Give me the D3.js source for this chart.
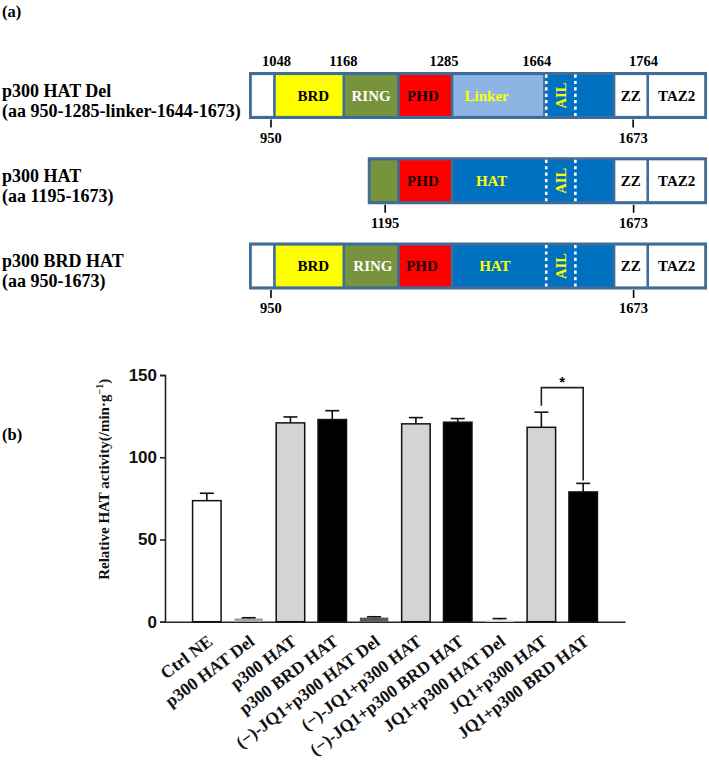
<!DOCTYPE html>
<html>
<head>
<meta charset="utf-8">
<script src="https://cdn.jsdelivr.net/npm/d3@7"></script>
<style>
  html, body { margin: 0; padding: 0; background: #fff; }
  svg { display: block; }
  .serif { font-family: "Liberation Serif", "Times New Roman", serif; font-weight: bold; }
</style>
</head>
<body>
<svg id="fig" width="709" height="765"></svg>
<script>
// ---------------- Panel (a): domain schematic data ----------------
const constructNames = ["p300 HAT Del", "p300 HAT", "p300 BRD HAT"];
const constructRanges = ["(aa 950-1285-linker-1644-1673)", "(aa 1195-1673)", "(aa 950-1673)"];
// schematic units (0-100 along the drawn construct)
const segmentsDel = [
  {name: "", kind: "N", from: 0, to: 5.26},
  {name: "BRD", kind: "BRD", from: 5.26, to: 20.5, at: 13.8},
  {name: "RING", kind: "RING", from: 20.5, to: 32.5},
  {name: "PHD", kind: "PHD", from: 32.5, to: 44.3, at: 37.9},
  {name: "Linker", kind: "Linker", from: 44.3, to: 64.6, at: 51.9},
  {name: "", kind: "HAT", from: 64.6, to: 79.9},
  {name: "ZZ", kind: "ZZ", from: 79.9, to: 87.3},
  {name: "TAZ2", kind: "TAZ2", from: 87.3, to: 100}
];
const segmentsHat = [
  {name: "", kind: "RING", from: 26.1, to: 32.5},
  {name: "PHD", kind: "PHD", from: 32.5, to: 44.3, at: 37.9},
  {name: "HAT", kind: "HAT", from: 44.3, to: 79.9, at: 53.0},
  {name: "ZZ", kind: "ZZ", from: 79.9, to: 87.3},
  {name: "TAZ2", kind: "TAZ2", from: 87.3, to: 100}
];
const segmentsBrdHat = [
  {name: "", kind: "N", from: 0, to: 5.26},
  {name: "BRD", kind: "BRD", from: 5.26, to: 20.5, at: 13.8},
  {name: "RING", kind: "RING", from: 20.5, to: 32.5, at: 26.9},
  {name: "PHD", kind: "PHD", from: 32.5, to: 44.3, at: 37.7},
  {name: "HAT", kind: "HAT", from: 44.3, to: 79.9, at: 53.7},
  {name: "ZZ", kind: "ZZ", from: 79.9, to: 87.3},
  {name: "TAZ2", kind: "TAZ2", from: 87.3, to: 100}
];
const constructSegments = [segmentsDel, segmentsHat, segmentsBrdHat];
const ailMarks = [65.0, 71.4];           // dotted AIL borders, schematic units
const ailLabelAt = 68.2;
const topLabels = [ {text: "1048", at: 5.7}, {text: "1168", at: 20.4}, {text: "1285", at: 42.5},
                    {text: "1664", at: 62.9}, {text: "1764", at: 86.4} ];
const bottomLabels = [
  [ {text: "950", at: 4.5}, {text: "1673", at: 84.1} ],
  [ {text: "1195", at: 29.6}, {text: "1673", at: 84.2} ],
  [ {text: "950", at: 4.5}, {text: "1673", at: 84.2} ]
];

// ---------------- Panel (b): bar chart data ----------------
const categories = ["Ctrl NE", "p300 HAT Del", "p300 HAT", "p300 BRD HAT",
  "(\u2212)-JQ1+p300 HAT Del", "(\u2212)-JQ1+p300 HAT", "(\u2212)-JQ1+p300 BRD HAT",
  "JQ1+p300 HAT Del", "JQ1+p300 HAT", "JQ1+p300 BRD HAT"];
const values = [73.6, 2.0, 120.9, 122.9, 2.5, 120.3, 121.3, 1.3, 118.2, 78.9];
const errors = [4.5, 0.4, 3.6, 5.4, 0.5, 3.8, 2.2, 0.6, 9.2, 5.2];
const yTicks = [0, 50, 100, 150];
const significance = {a: 8, b: 9, level: 142.3, aEnd: 131.3, bEnd: 85.8, label: "*"};

// ---------------- styles ----------------
const segFill = {N: "#ffffff", BRD: "#ffff00", RING: "#77933c", PHD: "#ff0000",
  Linker: "#8eb4e3", HAT: "#0070c0", ZZ: "#ffffff", TAZ2: "#ffffff"};
const segText = {N: "#000", BRD: "#000", RING: "#ffffff", PHD: "#1a0000",
  Linker: "#ffff00", HAT: "#ffff00", ZZ: "#000", TAZ2: "#000"};
const borderColor = "#3f6c99";
const barFills = ["#ffffff", "#a6a6a6", "#d4d4d4", "#000000", "#595959",
                  "#d4d4d4", "#000000", "#e8e8e8", "#d4d4d4", "#000000"];

const svg = d3.select("#fig");

// panel labels
svg.append("text").attr("class", "serif").attr("x", 2).attr("y", 17)
  .attr("font-size", 16.5).text("(a)");
svg.append("text").attr("class", "serif").attr("x", 2).attr("y", 440)
  .attr("font-size", 16.5).text("(b)");

// ---------------- Panel (a) drawing ----------------
const sx = d3.scaleLinear().domain([0, 100]).range([250.5, 705.5]);
const rowTop = d3.scaleLinear().domain([0, 2]).range([73.5, 244]);
const boxH = 44;

constructSegments.forEach((segs, i) => {
  const top = rowTop(i);
  const g = svg.append("g");
  const x0 = sx(d3.min(segs, d => d.from)), x1 = sx(d3.max(segs, d => d.to));
  g.append("rect").attr("x", x0).attr("y", top).attr("width", x1 - x0).attr("height", boxH)
    .attr("fill", borderColor).attr("stroke", borderColor).attr("stroke-width", 3);
  g.selectAll("rect.seg").data(segs).join("rect").attr("class", "seg")
    .attr("x", d => sx(d.from) + 1.3)
    .attr("y", top + 1.6)
    .attr("width", d => sx(d.to) - sx(d.from) - 2.6)
    .attr("height", boxH - 3.2)
    .attr("fill", d => segFill[d.kind]);
  // AIL dotted borders
  g.selectAll("line.ail").data(ailMarks).join("line").attr("class", "ail")
    .attr("x1", d => sx(d)).attr("x2", d => sx(d))
    .attr("y1", top + 1).attr("y2", top + boxH - 1)
    .attr("stroke", "#ffffff").attr("stroke-width", 2.6).attr("stroke-dasharray", "3.2,3.2");
  g.append("text").attr("class", "serif")
    .attr("transform", `translate(${sx(ailLabelAt) + 5},${top + boxH / 2}) rotate(-90)`)
    .attr("text-anchor", "middle").attr("font-size", 14.5).attr("fill", "#ffff00").text("AIL");
  g.selectAll("text.seg").data(segs.filter(d => d.name)).join("text").attr("class", "serif seg")
    .attr("x", d => sx(d.at !== undefined ? d.at : (d.from + d.to) / 2))
    .attr("y", top + boxH / 2 + 5)
    .attr("text-anchor", "middle").attr("font-size", 15)
    .attr("fill", d => segText[d.kind]).text(d => d.name);
  // bottom ticks & numbers
  g.selectAll("line.tk").data(bottomLabels[i]).join("line").attr("class", "tk")
    .attr("x1", d => sx(d.at)).attr("x2", d => sx(d.at))
    .attr("y1", top + boxH + 2).attr("y2", top + boxH + 10)
    .attr("stroke", "#000").attr("stroke-width", 1.6);
  g.selectAll("text.num").data(bottomLabels[i]).join("text").attr("class", "serif num")
    .attr("x", d => sx(d.at)).attr("y", top + boxH + 25)
    .attr("text-anchor", "middle").attr("font-size", 14.5).text(d => d.text);
  // name labels
  g.append("text").attr("class", "serif").attr("x", 2).attr("y", top + 23)
    .attr("font-size", 18).text(constructNames[i]);
  g.append("text").attr("class", "serif").attr("x", 2).attr("y", top + 43)
    .attr("font-size", 18).text(constructRanges[i]);
});
svg.append("g").selectAll("text").data(topLabels).join("text").attr("class", "serif")
  .attr("x", d => sx(d.at)).attr("y", rowTop(0) - 8)
  .attr("text-anchor", "middle").attr("font-size", 14.5).text(d => d.text);

// ---------------- Panel (b) drawing ----------------
const x = d3.scalePoint().domain(categories).range([165, 625]).padding(1);
const y = d3.scaleLinear().domain([0, 150]).range([621.7, 375]);
const barW = 28.5;

const yAxis = svg.append("g").attr("transform", "translate(165,0)")
  .call(d3.axisLeft(y).tickValues(yTicks).tickSize(5).tickPadding(3).tickFormat(d3.format("d")));
yAxis.select(".domain").attr("stroke", "#222").attr("stroke-width", 1.6);
yAxis.selectAll(".tick line").attr("stroke", "#222").attr("stroke-width", 1.6);
yAxis.selectAll(".tick text").attr("font-family", "Liberation Sans, Arial, sans-serif")
  .attr("font-weight", "bold").attr("font-size", 17).attr("fill", "#111");

const xAxis = svg.append("g").attr("transform", `translate(0,${y(0)})`)
  .call(d3.axisBottom(x).tickSize(0).tickFormat(""));
xAxis.select(".domain").attr("stroke", "#222").attr("stroke-width", 1.6);

// bars
svg.append("g").selectAll("rect").data(categories).join("rect")
  .attr("x", d => x(d) - barW / 2)
  .attr("y", (d, i) => y(values[i]))
  .attr("width", barW)
  .attr("height", (d, i) => y(0) - y(values[i]))
  .attr("fill", (d, i) => barFills[i])
  .attr("stroke", (d, i) => values[i] > 10 ? "#111" : "none")
  .attr("stroke-width", 1.5);

// error bars (upper)
const eg = svg.append("g").attr("stroke", "#111").attr("stroke-width", 1.6);
eg.selectAll("line.v").data(categories).join("line").attr("class", "v")
  .attr("x1", d => x(d)).attr("x2", d => x(d))
  .attr("y1", (d, i) => y(values[i])).attr("y2", (d, i) => y(values[i] + errors[i]));
eg.selectAll("line.c").data(categories).join("line").attr("class", "c")
  .attr("x1", d => x(d) - 7).attr("x2", d => x(d) + 7)
  .attr("y1", (d, i) => y(values[i] + errors[i])).attr("y2", (d, i) => y(values[i] + errors[i]));

// significance bracket
const xa = x(categories[significance.a]), xb = x(categories[significance.b]);
svg.append("path")
  .attr("d", d3.line()([[xa, y(significance.aEnd)], [xa, y(significance.level)],
                        [xb, y(significance.level)], [xb, y(significance.bEnd)]]))
  .attr("fill", "none").attr("stroke", "#222").attr("stroke-width", 1.6);
svg.append("text").attr("x", (xa + xb) / 2).attr("y", y(significance.level) - 1)
  .attr("text-anchor", "middle").attr("font-family", "Liberation Sans, Arial, sans-serif")
  .attr("font-weight", "bold").attr("font-size", 15).text(significance.label);

// x labels rotated
svg.append("g").selectAll("text").data(categories).join("text").attr("class", "serif")
  .attr("transform", d => `translate(${x(d) + 7},${y(0) + 22}) rotate(-37)`)
  .attr("text-anchor", "end").attr("font-size", 17.5).attr("fill", "#111").text(d => d);

// y label
const yl = svg.append("text").attr("class", "serif")
  .attr("transform", `translate(109,${(y(0) + y(150)) / 2 - 19}) rotate(-90)`)
  .attr("text-anchor", "middle").attr("font-size", 15).attr("fill", "#111");
yl.append("tspan").text("Relative HAT activity(/min\u00b7g");
yl.append("tspan").attr("font-size", 10).attr("dy", -6).text("\u22121");
yl.append("tspan").attr("dy", 6).text(")");
</script>
</body>
</html>
